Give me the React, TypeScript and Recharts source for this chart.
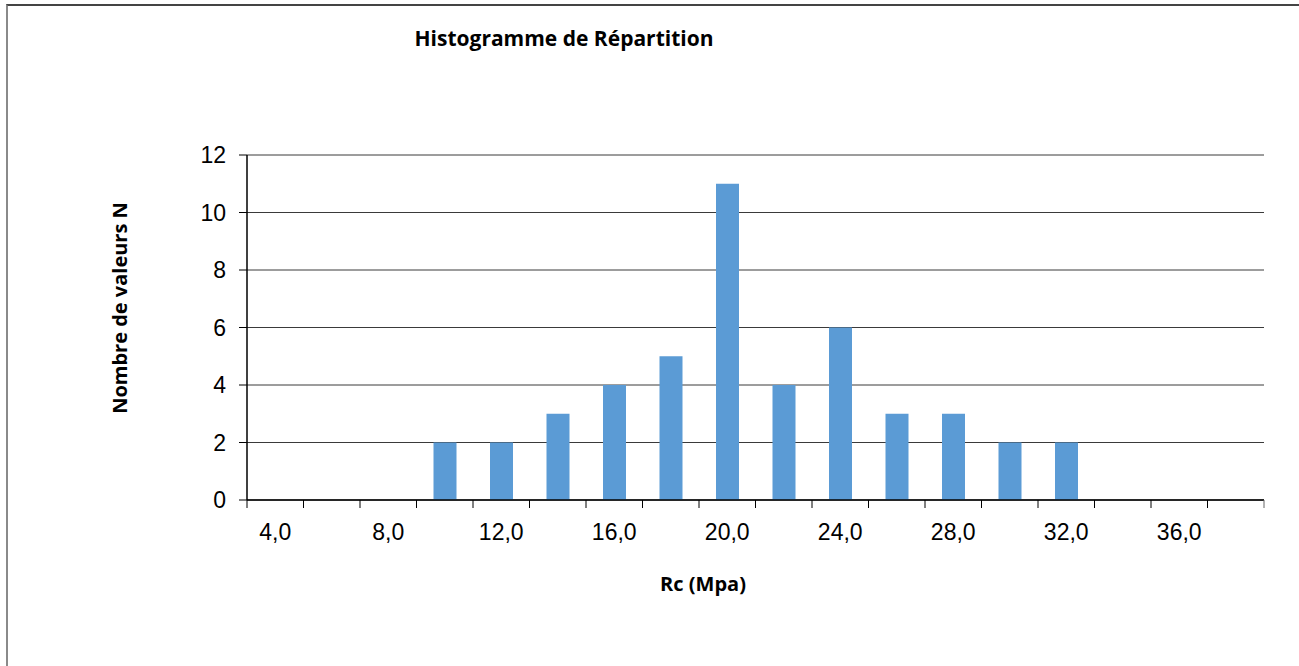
import { Bar, BarChart, CartesianGrid, XAxis, YAxis } from "recharts";

const classes = [4, 6, 8, 10, 12, 14, 16, 18, 20, 22, 24, 26, 28, 30, 32, 34, 36, 38];
const counts = [0, 0, 0, 2, 2, 3, 4, 5, 11, 4, 6, 3, 3, 2, 2, 0, 0, 0];
const yTicks = [0, 2, 4, 6, 8, 10, 12];

const data = classes.map((rc, i) => ({ rc, n: counts[i] }));

const W = 1299;
const H = 666;
const plotLeft = 247;
const plotRight = 1264;
const plotTop = 155;
const plotBottom = 500;
const halfBand = (plotRight - plotLeft) / classes.length / 2;

const labelFont = "'Open Sans', 'Noto Sans', sans-serif";
const tickFont = "'Liberation Sans', Arial, sans-serif";

function CategoryTick(props: any) {
  const { x, y, index, payload } = props;
  const last = index === classes.length - 1;
  return (
    <g>
      <line x1={x - halfBand} x2={x - halfBand} y1={y} y2={y + 8} stroke="#000" />
      {last ? <line x1={x + halfBand} x2={x + halfBand} y1={y} y2={y + 8} stroke="#666" /> : null}
      {index % 2 === 0 ? (
        <text x={x} y={y + 40} textAnchor="middle" fontSize={23} fontFamily={tickFont} fill="#000">
          {Number(payload.value).toFixed(1).replace(".", ",")}
        </text>
      ) : null}
    </g>
  );
}

export default function App() {
  return (
    <div style={{ position: "absolute", left: 0, top: 0, width: W, height: H, background: "#fff", overflow: "hidden" }}>
      <div style={{ position: "absolute", left: 6, top: 4, right: -10, bottom: -10, borderLeft: "2px solid #8a8a8a", borderTop: "2px solid #444" }} />
      <div style={{ position: "absolute", left: 0, top: 24, width: 1128, lineHeight: "28px", textAlign: "center", fontFamily: labelFont, fontWeight: 700, fontSize: 21, color: "#000" }}>
        Histogramme de Répartition
      </div>
      <div style={{ position: "absolute", left: 0, top: 570, width: 1406, lineHeight: "28px", textAlign: "center", fontFamily: labelFont, fontWeight: 700, fontSize: 20, color: "#000" }}>
        Rc (Mpa)
      </div>
      <div
        style={{
          position: "absolute",
          left: 120,
          top: 308,
          transform: "translate(-50%, -50%) rotate(-90deg)",
          whiteSpace: "nowrap",
          lineHeight: "28px",
          fontFamily: labelFont,
          fontWeight: 700,
          fontSize: 20,
          color: "#000"
        }}
      >
        Nombre de valeurs N
      </div>
      <BarChart
        width={W}
        height={H}
        data={data}
        margin={{ top: plotTop, right: W - plotRight, bottom: H - plotBottom - 60, left: 200 }}
        style={{ position: "absolute", left: 0, top: 0 }}
      >
        <CartesianGrid vertical={false} stroke="#3a3a3a" />
        <XAxis
          dataKey="rc"
          interval={0}
          tickLine={false}
          tickSize={0}
          tickMargin={0}
          tick={<CategoryTick />}
          axisLine={{ stroke: "#000", strokeWidth: 1.5 }}
          height={60}
        />
        <XAxis xAxisId="top" orientation="top" dataKey="rc" tick={false} tickLine={false} height={0} axisLine={{ stroke: "#999", strokeWidth: 2 }} />
        <YAxis
          domain={[0, 12]}
          ticks={yTicks}
          interval={0}
          width={47}
          tickSize={8}
          tickMargin={13}
          tickLine={{ stroke: "#000" }}
          axisLine={{ stroke: "#000", strokeWidth: 1.5 }}
          tick={{ fill: "#000", fontSize: 23, fontFamily: tickFont }}
        />
        <YAxis yAxisId="right" orientation="right" domain={[0, 12]} tick={false} tickLine={false} width={0} axisLine={{ stroke: "#8a8a8a", strokeWidth: 2.5 }} />
        <Bar dataKey="n" fill="#5b9bd5" barSize={23} isAnimationActive={false} />
      </BarChart>
    </div>
  );
}
